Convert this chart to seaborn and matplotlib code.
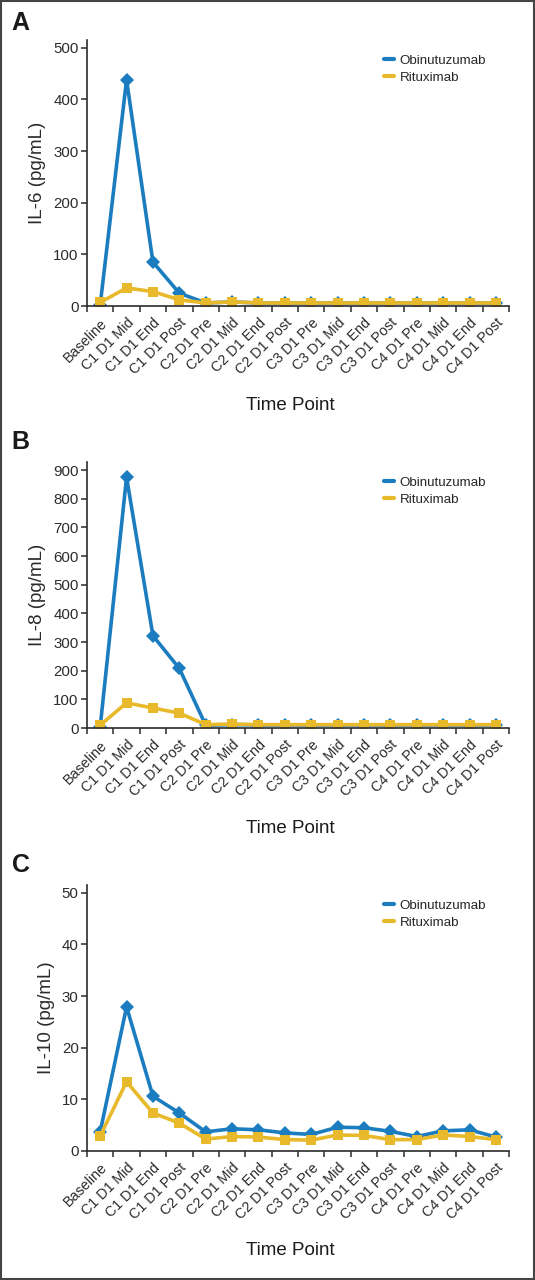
import numpy as np
import pandas as pd
import matplotlib
matplotlib.use("Agg")
import matplotlib.pyplot as plt
from matplotlib.lines import Line2D
from matplotlib.patches import Rectangle
import seaborn as sns

# ==========================================
# Data
# ==========================================
time_points = ["Baseline", "C1 D1 Mid", "C1 D1 End", "C1 D1 Post",
               "C2 D1 Pre", "C2 D1 Mid", "C2 D1 End", "C2 D1 Post",
               "C3 D1 Pre", "C3 D1 Mid", "C3 D1 End", "C3 D1 Post",
               "C4 D1 Pre", "C4 D1 Mid", "C4 D1 End", "C4 D1 Post"]

il6_obinutuzumab = [2, 438, 85, 25, 6, 8, 6, 6, 6, 6, 6, 6, 6, 6, 6, 6]
il6_rituximab = [7, 35, 28, 12, 6, 8, 6, 6, 6, 6, 6, 6, 6, 6, 6, 6]

il8_obinutuzumab = [4, 875, 322, 208, 10, 12, 11, 11, 11, 11, 11, 11, 11, 11, 11, 11]
il8_rituximab = [10, 88, 70, 52, 12, 14, 12, 12, 12, 12, 12, 12, 12, 12, 12, 12]

il10_obinutuzumab = [3.7, 27.9, 10.6, 7.35, 3.7, 4.3, 4.1, 3.5, 3.2, 4.6, 4.5, 3.8, 2.8, 3.9, 4.1, 2.7]
il10_rituximab = [2.9, 13.4, 7.35, 5.4, 2.3, 2.8, 2.7, 2.2, 2.1, 3.1, 3.0, 2.2, 2.2, 3.1, 2.8, 2.2]

treatments = ["Obinutuzumab", "Rituximab"]
colors = {"Obinutuzumab": "#1b7dc0", "Rituximab": "#e8b92a"}
markers = {"Obinutuzumab": "D", "Rituximab": "s"}

panels = [
    ("A", "IL-6 (pg/mL)", il6_obinutuzumab, il6_rituximab, [0, 100, 200, 300, 400, 500], 515),
    ("B", "IL-8 (pg/mL)", il8_obinutuzumab, il8_rituximab, [0, 100, 200, 300, 400, 500, 600, 700, 800, 900], 928),
    ("C", "IL-10 (pg/mL)", il10_obinutuzumab, il10_rituximab, [0, 10, 20, 30, 40, 50], 51.5),
]

# ==========================================
# Style
# ==========================================
sns.set_style("ticks")
plt.rcParams["font.family"] = ["Liberation Sans", "DejaVu Sans"]
dark = "#2b2b2b"

fig = plt.figure(figsize=(5.35, 12.8), dpi=100)

# axes positions in figure fraction (left, bottom, width, height)
positions = [
    (0.1626, 0.7609, 0.789, 0.2078),
    (0.1626, 0.4312, 0.789, 0.2078),
    (0.1626, 0.1008, 0.789, 0.2078),
]
letter_y = [0.982, 0.6545, 0.324]
xlabel_y = [0.683, 0.353, 0.023]

for (letter, ylabel, obi, rit, yticks, ytop), pos, ly, xy in zip(panels, positions, letter_y, xlabel_y):
    ax = fig.add_axes(pos)

    df = pd.DataFrame({
        "idx": list(range(len(time_points))) * 2,
        "value": obi + rit,
        "Treatment": ["Obinutuzumab"] * len(obi) + ["Rituximab"] * len(rit),
    })

    sns.lineplot(data=df, x="idx", y="value", hue="Treatment", style="Treatment",
                 hue_order=treatments, style_order=treatments,
                 palette=colors, markers=markers, dashes=False,
                 linewidth=2.6, markersize=7, markeredgewidth=0,
                 legend=False, ax=ax)

    ax.set_xlim(-0.5, len(time_points) - 0.5)
    ax.set_ylim(0, ytop)
    ax.set_yticks(yticks)
    ax.set_xticks(range(len(time_points)))
    ax.set_xticklabels(time_points, rotation=45, ha="right", rotation_mode="anchor")
    ax.set_xticks(np.arange(-0.5, len(time_points), 1), minor=True)
    ax.tick_params(axis="x", which="major", length=0, pad=7, labelsize=10.3, colors=dark)
    ax.tick_params(axis="x", which="minor", length=4, width=1.1, color=dark, direction="out")
    ax.tick_params(axis="y", length=4, width=1.1, color=dark, labelsize=10.8, labelcolor=dark, pad=2)

    for side in ["top", "right"]:
        ax.spines[side].set_visible(False)
    for side in ["left", "bottom"]:
        ax.spines[side].set_color(dark)
        ax.spines[side].set_linewidth(1.2)

    ax.set_xlabel("")
    ax.set_ylabel(ylabel, fontsize=13.5, color=dark, labelpad=5)

    handles = [Line2D([0], [0], color=colors[t], lw=3) for t in treatments]
    ax.legend(handles, treatments, loc="upper left", bbox_to_anchor=(0.69, 0.965),
              frameon=False, fontsize=9.6, handlelength=0.8, handletextpad=0.4,
              labelspacing=0.35, borderaxespad=0)

    fig.text(0.022, ly, letter, fontsize=18, fontweight="bold", color="#1a1a1a", va="center")
    fig.text(0.542, xy, "Time Point", fontsize=13.5, color="#1a1a1a", ha="center", va="center")

# border around the figure
fig.patches.append(Rectangle((0.001, 0.001), 0.998, 0.998, transform=fig.transFigure,
                             fill=False, edgecolor="#444444", linewidth=1.5))

fig.savefig("out.png", dpi=100)
